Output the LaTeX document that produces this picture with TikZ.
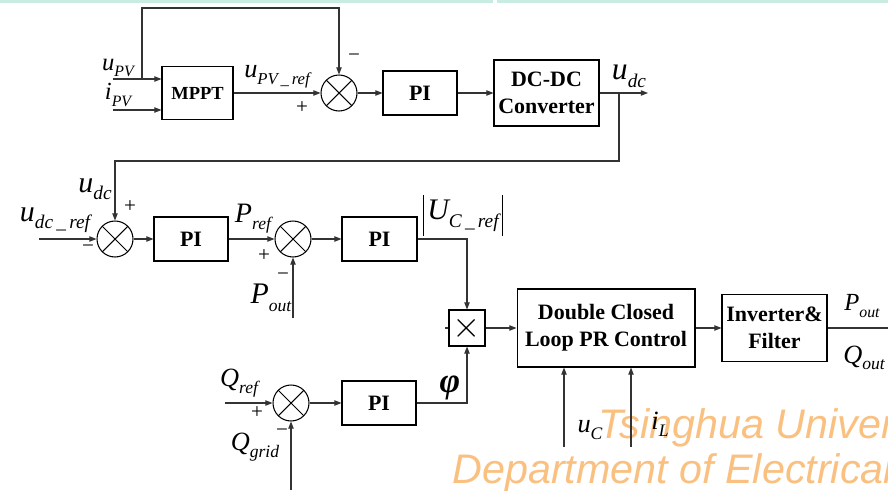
\documentclass[tikz,border=0pt]{standalone}
\usepackage{fontspec}
\setmainfont{Liberation Serif}
\newfontfamily\wmfont{Liberation Sans}
\usetikzlibrary{arrows.meta,positioning,calc}

\definecolor{band}{RGB}{200,236,226}
\definecolor{wmorange}{RGB}{250,192,128}
\newcommand{\sig}[4]{{\fontsize{#1}{#1}\selectfont\itshape #3}\raisebox{-0.25\dimexpr#1pt\relax}{\fontsize{#2}{#2}\selectfont\itshape #4}}

\begin{document}
\begin{tikzpicture}[x=0.02cm, y=-0.02cm, >={Triangle[length=4pt,width=3pt]},
  blk/.style={draw, line width=0.6pt, align=center, inner sep=1pt, font=\bfseries\fontsize{12.5}{15.5}\selectfont},
  summer/.style={circle, draw, line width=0.6pt, minimum size=0.72cm, inner sep=0pt,
    path picture={\draw[line width=0.6pt] (path picture bounding box.north west) -- (path picture bounding box.south east)
      (path picture bounding box.south west) -- (path picture bounding box.north east);}},
  wire/.style={line width=0.6pt, black!80},
  lab/.style={inner sep=0pt},
  sgn/.style={inner sep=0pt, font=\fontsize{12}{12}\selectfont}]

\useasboundingbox (0,0) rectangle (888,490);
\fill[band] (0,0) rectangle (493,2.5);
\fill[band] (497,0) rectangle (888,2.5);

% watermark
\begin{scope}
\clip (0,0) rectangle (888,490);
\node[anchor=base west, inner sep=0pt, text=wmorange, font=\wmfont\itshape\fontsize{23.5}{24}\selectfont] (wmA) at (598,438) {Tsinghua University};
\node[anchor=base west, inner sep=0pt, text=wmorange, font=\wmfont\itshape\fontsize{23.5}{24}\selectfont] (wmB) at (452,483) {Department of Electrical Engineering};
\end{scope}

% blocks
\node[blk, font=\bfseries\fontsize{10.5}{12}\selectfont, minimum width=1.42cm, minimum height=1.06cm] (mppt) at (197.5,93) {MPPT};
\node[summer] (sumA) at (339,93) {};
\node[blk, minimum width=1.48cm, minimum height=0.88cm] (piA) at (420,93) {PI};
\node[blk, minimum width=2.1cm, minimum height=1.32cm] (dcdc) at (546.5,93) {DC-DC\\Converter};
\node[summer] (sumB) at (115,239) {};
\node[blk, minimum width=1.48cm, minimum height=0.88cm] (piB) at (191,239) {PI};
\node[summer] (sumC) at (293,239) {};
\node[blk, minimum width=1.5cm, minimum height=0.88cm] (piC) at (379.5,239) {PI};
\node[draw, line width=0.6pt, minimum size=0.72cm, inner sep=0pt, font=\fontsize{20}{20}\selectfont] (mult) at (467,328) {$\times$};
\node[blk, minimum width=3.56cm, minimum height=1.56cm] (prctl) at (606,328) {Double Closed\\Loop PR Control};
\node[blk, minimum width=2.1cm, minimum height=1.34cm] (inv) at (774.5,328) {Inverter\&\\Filter};
\node[summer] (sumD) at (291,403) {};
\node[blk, minimum width=1.48cm, minimum height=0.88cm] (piD) at (379,403) {PI};

% free ends
\coordinate (upv) at (113,79);
\coordinate (ipv) at (113,110);
\coordinate (tapA) at (142,79);
\coordinate (topA) at (142,8);
\coordinate (udc) at (648,93);
\coordinate (tapB) at (619,93);
\coordinate (turnB) at (619,161);
\coordinate (udcref) at (39,239);
\coordinate (poutin) at (293,318);
\coordinate (ucin) at (564,447);
\coordinate (ilin) at (631,447);
\coordinate (qref) at (225,403);
\coordinate (qgrid) at (291,490);
\coordinate (pqout) at (888,328);

% connectors
\draw[wire,->] (upv) -- (upv -| mppt.west);
\draw[wire,->] (ipv) -- (ipv -| mppt.west);
\draw[wire,->] (tapA) -- (topA) -| (sumA.north);
\draw[wire,->] (mppt) -- (sumA);
\draw[wire,->] (sumA) -- (piA);
\draw[wire,->] (piA) -- (dcdc);
\draw[wire,->] (dcdc) -- (udc);
\draw[wire,->] (tapB) -- (turnB) -| (sumB.north);
\draw[wire,->] (udcref) -- (sumB);
\draw[wire,->] (sumB) -- (piB);
\draw[wire,->] (piB) -- (sumC);
\draw[wire,->] (sumC) -- (piC);
\draw[wire,->] (poutin) -- (sumC);
\draw[wire,->] (piC) -| (mult);
\draw[wire,->] (piD) -| (mult);
\draw[wire] (mult.west) -- ++(-3,0);
\draw[wire,->] (mult) -- (prctl);
\draw[wire,->] (prctl) -- (inv);
\draw[wire] (inv) -- (pqout);
\draw[wire,->] (ucin) -- (ucin |- prctl.south);
\draw[wire,->] (ilin) -- (ilin |- prctl.south);
\draw[wire,->] (qref) -- (sumD);
\draw[wire,->] (qgrid) -- (sumD);
\draw[wire,->] (sumD) -- (piD);

% labels
\node[lab] (lupv) at (118,68) {\sig{14}{9}{u}{PV}};
\node[lab] (lipv) at (118,95) {\sig{14}{9}{i}{PV}};
\node[lab] (lupvref) at (277,77) {\sig{15}{9.5}{u}{PV\,\_\,ref}};
\node[lab] (ludcA) at (629,76) {\sig{18}{11}{u}{dc}};
\node[lab] (ludcB) at (95,189) {\sig{17}{11}{u}{dc}};
\node[lab] (ludcref) at (55,220) {\sig{17}{11}{u}{dc\,\_\,ref}};
\node[lab] (lpref) at (253,219) {\sig{16}{10}{P}{ref}};
\node[lab] (lpoutA) at (271,298) {\sig{17}{10}{P}{out}};
\node[lab] (lucref) at (463,215.5) {\vrule width 0.7pt height 14pt depth 9pt\,\sig{17}{11}{U}{C\,\_\,ref}\,\vrule width 0.7pt height 14pt depth 9pt};
\node[lab, font=\bfseries\itshape\fontsize{20}{20}\selectfont] (lphi) at (450,388) {φ};
\node[lab] (lqref) at (239,383) {\sig{15}{10}{Q}{ref}};
\node[lab] (lqgrid) at (255,447) {\sig{15}{10}{Q}{grid}};
\node[lab] (luc) at (590,430) {\sig{15}{10}{u}{C}};
\node[lab] (lil) at (660,424) {\sig{15}{10}{i}{L}};
\node[lab] (lpoutB) at (862,306) {\sig{14}{9}{P}{out}};
\node[lab] (lqout) at (864,358) {\sig{15}{10}{Q}{out}};

% signs
\node[sgn] (mA) at (354,58) {−};
\node[sgn] (pA) at (302,108) {+};
\node[sgn] (pB) at (130,207) {+};
\node[sgn] (mB) at (88,249) {−};
\node[sgn] (pC) at (264,256) {+};
\node[sgn] (mC) at (283,277) {−};
\node[sgn] (pD) at (257,413) {+};
\node[sgn] (mD) at (282,433) {−};

\end{tikzpicture}
\end{document}
